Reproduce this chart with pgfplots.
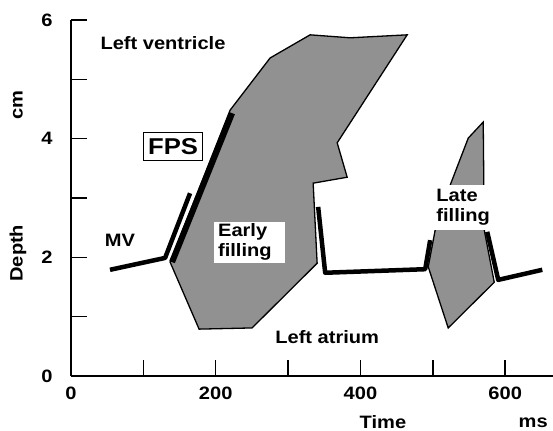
\documentclass[border=0pt]{standalone}
\usepackage{pgfplots}
\pgfplotsset{compat=1.18}
\usepackage{fontspec}
\setmainfont[FakeStretch=1.12]{Liberation Sans}
\definecolor{fillgray}{gray}{0.57}
\newcommand{\lbl}{\fontsize{18}{20}\selectfont\bfseries}
\begin{document}
\begin{tikzpicture}
\begin{axis}[
  at={(71bp,55bp)}, anchor=south west,
  scale only axis, width=482bp, height=356bp,
  xmin=0, xmax=666, ymin=0, ymax=6,
  axis lines=left, axis line style={-, line width=1.5bp},
  clip=false,
  tick align=inside, major tick length=16bp,
  tick style={line width=1.5bp, black},
  xtick={0,100,...,600}, xticklabels={0,,200,,400,,600},
  ytick={0,1,...,6}, yticklabels={0,,2,,4,,6},
  ticklabel style={font=\lbl, anchor=center},
  xticklabel style={yshift=-17bp},
  yticklabel style={xshift=-24bp},
  /pgf/number format/assume math mode=true,
]
% Early filling
\addplot[draw=black, line width=1.3bp, fill=fillgray, line join=miter] coordinates {
(136.9,1.92) (177,0.79) (250.2,0.81) (340.1,1.90) (334.6,3.25) (381.6,3.35) (367.8,3.93) (464.5,5.75) (385.7,5.70) (330.4,5.75) (275.1,5.36) (219.8,4.48)
} -- cycle;
% Late filling
\addplot[draw=black, line width=1.3bp, fill=fillgray, line join=miter] coordinates {
(493.6,1.84) (503.2,2.46) (524.0,3.22) (548.9,4.01) (569.6,4.28) (571,2.46) (584.8,1.58) (521.2,0.81)
} -- cycle;
\fill[white] (axis cs:197.3,1.90) rectangle (axis cs:295.9,2.60);
\fill[white] (axis cs:500,2.46) rectangle (axis cs:576,3.22);
% MV line
\addplot[black, line width=4.5bp, line join=round] coordinates {(53.9,1.79) (130.0,1.99) (164.5,3.08)};
% FPS line
\addplot[black, line width=6bp] coordinates {(139.6,1.92) (222.6,4.43)};
% diastasis line
\addplot[black, line width=4.5bp, line join=round] coordinates {(341.5,2.85) (351.2,1.74) (489.4,1.80) (496.3,2.29)};
\addplot[black, line width=4.5bp, line join=round] coordinates {(575.1,2.43) (590.3,1.62) (651.2,1.79)};
% labels
\node[font=\lbl, anchor=west] at (axis cs:35.9,5.61) {Left ventricle};
\node[draw, line width=1bp, font=\fontsize{23}{23}\selectfont\bfseries, inner sep=2bp, minimum width=59bp, minimum height=28bp] at (axis cs:141,3.86) {FPS};
\node[font=\lbl] at (axis cs:67.7,2.28) {MV};
\node[font=\lbl] at (axis cs:354,0.66) {Left atrium};
\node[font=\lbl, align=left, anchor=west, inner sep=0pt] at (axis cs:203,2.26) {Early\\filling};
\node[font=\lbl, align=left, anchor=west, inner sep=0pt] at (axis cs:504.6,2.85) {Late\\filling};
\node[font=\lbl, rotate=90] at (axis cs:-73.3,2.07) {Depth};
\node[font=\lbl, rotate=90] at (axis cs:-73.3,4.57) {cm};
\node[font=\lbl] at (axis cs:431,-0.78) {Time};
\node[font=\lbl] at (axis cs:638.7,-0.78) {ms};
\end{axis}
\pgfresetboundingbox
\path (0,0) rectangle (553bp,431bp);
\end{tikzpicture}
\end{document}
